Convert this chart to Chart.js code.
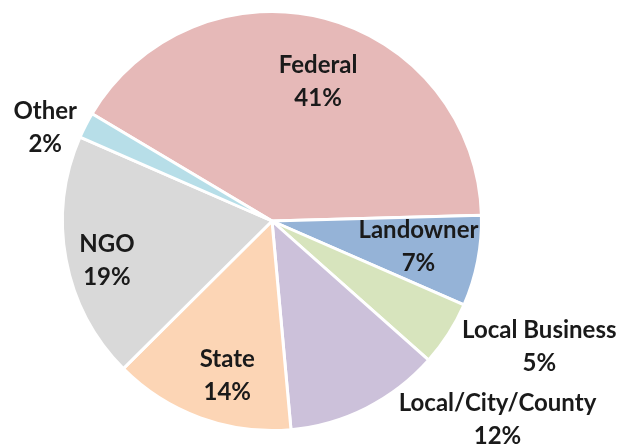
<!DOCTYPE html>
<html>
<head>
<meta charset="utf-8">
<script src="https://cdn.jsdelivr.net/npm/chart.js@4.4.0/dist/chart.umd.min.js"></script>
<style>
  html, body { margin: 0; padding: 0; background: #ffffff; }
  #wrap { width: 623px; height: 445px; position: relative; }
</style>
</head>
<body>
<div id="wrap"><canvas id="c" width="623" height="445"></canvas></div>
<script>
const categories = ["Federal", "Landowner", "Local Business", "Local/City/County", "State", "NGO", "Other"];
const shares = [41, 7, 5, 12, 14, 19, 2];
const percentLabels = ["41%", "7%", "5%", "12%", "14%", "19%", "2%"];
const sliceColors = ["#E6B9B8", "#95B3D7", "#D7E4BD", "#CCC1DA", "#FCD5B5", "#D9D9D9", "#B7DEE8"];

// label placement: radius factor and angle tweak (degrees) relative to slice mid-angle
const labelPlacement = [
  { r: 0.70, da: 3.7 },
  { r: 0.71, da: -0.9 },
  { r: 1.41, da: -7.4 },
  { r: 1.435, da: -21.8 },
  { r: 0.77, da: -3.9 },
  { r: 0.81, da: -2.8 },
  { r: 1.17, da: -4.9 }
];

const labelPlugin = {
  id: 'sliceLabels',
  afterDatasetsDraw(chart) {
    const ctx = chart.ctx;
    const meta = chart.getDatasetMeta(0);
    ctx.save();
    ctx.font = "bold 24px Lato, 'Open Sans', sans-serif";
    ctx.fillStyle = "#1a1a1a";
    ctx.textAlign = "center";
    ctx.textBaseline = "middle";
    meta.data.forEach((arc, i) => {
      const p = arc.getProps(['x', 'y', 'startAngle', 'endAngle', 'outerRadius'], true);
      const mid = (p.startAngle + p.endAngle) / 2 + labelPlacement[i].da * Math.PI / 180;
      const rr = p.outerRadius * labelPlacement[i].r;
      const cx = p.x + Math.cos(mid) * rr;
      const cy = p.y + Math.sin(mid) * rr;
      ctx.fillText(categories[i], cx, cy - 16.5);
      ctx.fillText(percentLabels[i], cx, cy + 16.5);
    });
    ctx.restore();
  }
};

new Chart(document.getElementById('c'), {
  type: 'pie',
  data: {
    labels: categories,
    datasets: [{
      data: shares,
      backgroundColor: sliceColors,
      borderColor: "#ffffff",
      borderWidth: 3
    }]
  },
  options: {
    responsive: false,
    animation: false,
    rotation: -59.2,
    layout: { padding: { top: 10, bottom: 13, left: 0, right: 79 } },
    plugins: {
      legend: { display: false },
      tooltip: { enabled: false }
    }
  },
  plugins: [labelPlugin]
});
</script>
</body>
</html>
